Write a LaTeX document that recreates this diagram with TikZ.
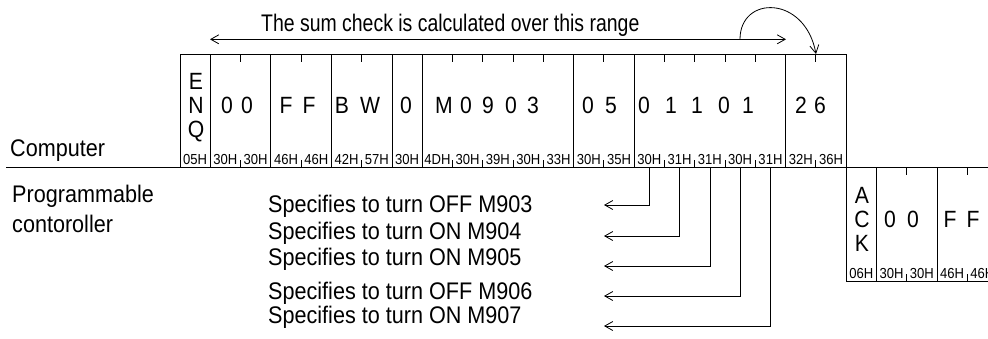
\documentclass[tikz,border=0pt]{standalone}
\usepackage{fontspec}
\setmainfont{Liberation Sans}
\newfontfamily\condf{Liberation Sans}[FakeStretch=0.9]
\newfontfamily\condt{Liberation Sans}[FakeStretch=0.81]
\usetikzlibrary{arrows.meta}
\begin{document}
\begin{tikzpicture}[x=1pt,y=-1pt,
  frame/.style={line width=0.9pt},
  big/.style={font=\condf\fontsize{23.5}{26}\selectfont, inner sep=0pt, anchor=base},
  hex/.style={font=\condf\fontsize{14.5}{15}\selectfont, inner sep=0pt, anchor=base},
  lbl/.style={font=\condf\fontsize{24}{26}\selectfont, inner sep=0pt, anchor=base west},
  bar/.style={line width=0.8pt, -{Straight Barb[length=8pt,width=9pt,line width=0.8pt]}},
  dbar/.style={line width=0.8pt, {Straight Barb[length=8pt,width=9pt,line width=0.8pt]}-{Straight Barb[length=8pt,width=9pt,line width=0.8pt]}}
]
\useasboundingbox (0,0) rectangle (988,338);
\clip (0,0) rectangle (988,338);
% ---------- computer frame ----------
\draw[frame] (180,54) -- (846,54);
\draw[frame] (6,167) -- (988,167);
\foreach \k in {0,1,3,5,7,8,13,15,20,22}
  \draw[frame] ({180+30.28*\k},54) -- ({180+30.28*\k},167);
\foreach \k in {2,4,6,9,10,11,12,14,16,17,18,19,21}{
  \draw[frame] ({180+30.28*\k},54) -- ({180+30.28*\k},62);
  \draw[frame] ({180+30.28*\k},167) -- ({180+30.28*\k},160);
}
% ---------- PC frame ----------
\draw[frame] (846,281) -- (988,281);
\foreach \k in {22,23,25,27}
  \draw[frame] ({180+30.28*\k},167) -- ({180+30.28*\k},281);
\foreach \k in {24,26}{
  \draw[frame] ({180+30.28*\k},167) -- ({180+30.28*\k},175);
  \draw[frame] ({180+30.28*\k},281) -- ({180+30.28*\k},274);
}
% ---------- hex codes ----------
\foreach \h [count=\i from 0] in {05H,30H,30H,46H,46H,42H,57H,30H,4DH,30H,39H,30H,33H,30H,35H,30H,31H,31H,30H,31H,32H,36H}
  \node[hex] (hx\i) at ({180+30.28*(\i+0.5)},164) {\h};
\foreach \h [count=\i from 0] in {06H,30H,30H,46H,46H}
  \node[hex] (hp\i) at ({180+30.28*(\i+22.5)},278) {\h};
% ---------- big characters (computer) ----------
\node[big] (cE) at (196,89) {E};
\node[big] (cN) at (196,113) {N};
\node[big] (cQ) at (196,137) {Q};
\node[big] (c1) at (227,113) {0};
\node[big] (c2) at (247,113) {0};
\node[big] (c3) at (286,113) {F};
\node[big] (c4) at (309,113) {F};
\node[big] (c5) at (342,113) {B};
\node[big] (c6) at (370,113) {W};
\node[big] (c7) at (406,113) {0};
\node[big] (c8) at (444,113) {M};
\node[big] (c9) at (466,113) {0};
\node[big] (c10) at (488,113) {9};
\node[big] (c11) at (511,113) {0};
\node[big] (c12) at (533,113) {3};
\node[big] (c13) at (588,113) {0};
\node[big] (c14) at (611,113) {5};
\node[big] (c15) at (644,113) {0};
\node[big] (c16) at (671,113) {1};
\node[big] (c17) at (697,113) {1};
\node[big] (c18) at (724,113) {0};
\node[big] (c19) at (748,113) {1};
\node[big] (c20) at (801,113) {2};
\node[big] (c21) at (820,113) {6};
% ---------- big characters (PC) ----------
\node[big] (pA) at (862,203) {A};
\node[big] (pC) at (862,227) {C};
\node[big] (pK) at (862,251) {K};
\node[big] (p1) at (890,227) {0};
\node[big] (p2) at (913,227) {0};
\node[big] (p3) at (950,227) {F};
\node[big] (p4) at (973,227) {F};
% ---------- labels ----------
\node[lbl, font=\condt\fontsize{24}{26}\selectfont] (title) at (261,31) {The sum check is calculated over this range};
\node[lbl] (comp) at (10,156) {Computer};
\node[lbl] (prog) at (12,202) {Programmable};
\node[lbl] (ctrl) at (12,232) {contoroller};
\node[lbl] (s1) at (268,212) {Specifies to turn OFF M903};
\node[lbl] (s2) at (268,239) {Specifies to turn ON M904};
\node[lbl] (s3) at (268,265) {Specifies to turn ON M905};
\node[lbl] (s4) at (268,299) {Specifies to turn OFF M906};
\node[lbl] (s5) at (268,323) {Specifies to turn ON M907};
% ---------- sum check range ----------
\coordinate (sl) at (210,39.3);
\coordinate (sr) at (786,39.3);
\draw[dbar] (sl) -- (sr);
\coordinate (cs) at (740,39.3);
\coordinate (ce) at (816,54);
\draw[bar] (cs) .. controls (740,-5) and (805,-5) .. (ce);
% ---------- bit arrows ----------
\foreach \k/\yy in {15/205,16/236,17/266,18/296,19/326}{
  \coordinate (b\k) at ({180+30.28*(\k+0.5)},167);
  \coordinate (e\k) at (604,\yy);
  \draw[bar] (b\k) |- (e\k);
}
\end{tikzpicture}
\end{document}
